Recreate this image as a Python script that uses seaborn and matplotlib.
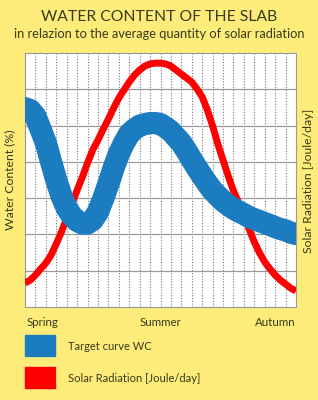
import pandas as pd
import seaborn as sns
import matplotlib
matplotlib.use("Agg")
import matplotlib.pyplot as plt
from matplotlib.patches import Rectangle

# x axis: weeks from spring (one grid column = one week), read every half week
weeks = [i / 2 for i in range(53)]

# water content, target curve (grid rows)
wc_y = [5.48, 5.43, 5.26, 4.90, 4.52, 4.00, 3.50, 3.06, 2.73, 2.51, 2.37, 2.30,
        2.30, 2.40, 2.62, 2.98, 3.39, 3.83, 4.22, 4.52, 4.77, 4.90, 5.00, 5.04,
        5.07, 5.07, 5.04, 4.95, 4.84, 4.68, 4.52, 4.30, 4.06, 3.83, 3.61, 3.40,
        3.21, 3.06, 2.92, 2.81, 2.71, 2.63, 2.56, 2.48, 2.42, 2.37, 2.31, 2.26,
        2.20, 2.15, 2.11, 2.05, 2.01]

# solar radiation (grid rows)
sr_y = [0.66, 0.74, 0.88, 1.05, 1.21, 1.43, 1.74, 2.07, 2.45, 2.84, 3.22, 3.58,
        3.97, 4.33, 4.60, 4.90, 5.18, 5.48, 5.76, 5.98, 6.20, 6.39, 6.53, 6.64,
        6.70, 6.72, 6.72, 6.70, 6.64, 6.53, 6.42, 6.31, 6.20, 6.01, 5.79, 5.43,
        4.99, 4.49, 4.05, 3.61, 3.20, 2.87, 2.51, 2.15, 1.79, 1.49, 1.24, 1.05,
        0.88, 0.74, 0.63, 0.52, 0.44]

seasons = ["Spring", "Summer", "Autumn"]
season_pos = [0.2, 13, 26]
legend_labels = ["Target curve WC", "Solar Radiation [Joule/day]"]

bg = "#fdec7a"
blue = "#1b7cc0"
red = "#ff0000"
ink = "#3a3a1a"

sns.set_theme(style="white")
plt.rcParams["font.family"] = ["Lato", "DejaVu Sans"]

wc = pd.DataFrame({"week": weeks, "value": wc_y})
sr = pd.DataFrame({"week": weeks, "value": sr_y})

fig = plt.figure(figsize=(3.18, 4.0), dpi=100, facecolor=bg)
ax = fig.add_axes([25 / 318, 93 / 400, 271 / 318, 254 / 400])
ax.set_facecolor("white")

sns.lineplot(data=sr, x="week", y="value", ax=ax, color=red, lw=5,
             solid_capstyle="butt", solid_joinstyle="round", zorder=3)
sns.lineplot(data=wc, x="week", y="value", ax=ax, color=blue, lw=16,
             solid_capstyle="round", solid_joinstyle="round", zorder=4)

ax.set_xlim(0, 26)
ax.set_ylim(0, 7)
for i in range(1, 26):
    ax.axvline(i, color="#7a7a7a", lw=0.8, ls=(0, (1, 1.5)), zorder=1)
for j in range(1, 7):
    ax.axhline(j, color="#9a9a9a", lw=0.9, zorder=1)
ax.set_xticks([])
ax.set_yticks([])
ax.set_xlabel("")
ax.set_ylabel("")
for s in ax.spines.values():
    s.set_color("#9a9a9a")
    s.set_linewidth(0.8)

fig.text(0.5, 1 - 17 / 400, "WATER CONTENT OF THE SLAB", ha="center", va="center",
         fontsize=11.3, color=ink)
fig.text(0.5, 1 - 34 / 400, "in relazion to the average quantity of solar radiation",
         ha="center", va="center", fontsize=9.3, color=ink)
fig.text(10 / 318, 1 - 180 / 400, "Water Content (%)", rotation=90, ha="center",
         va="center", fontsize=8.8, color=ink)
fig.text(308 / 318, 1 - 181 / 400, "Solar Radiation [Joule/day]", rotation=90,
         ha="center", va="center", fontsize=8.8, color=ink)

aligns = ["left", "center", "right"]
for name, pos, al in zip(seasons, season_pos, aligns):
    ax.text(pos, -0.04, name, transform=ax.get_xaxis_transform(), ha=al,
            va="top", fontsize=8.3, color=ink)

for k, (lab, col) in enumerate(zip(legend_labels, [blue, red])):
    y0 = 1 - (356 + k * 32) / 400
    fig.patches.append(Rectangle((25 / 318, y0), 30 / 318, 21 / 400,
                                 transform=fig.transFigure, color=col))
    fig.text(68 / 318, y0 + 10 / 400, lab, ha="left", va="center",
             fontsize=8, color=ink)

fig.savefig("out.png", dpi=100, facecolor=bg)
